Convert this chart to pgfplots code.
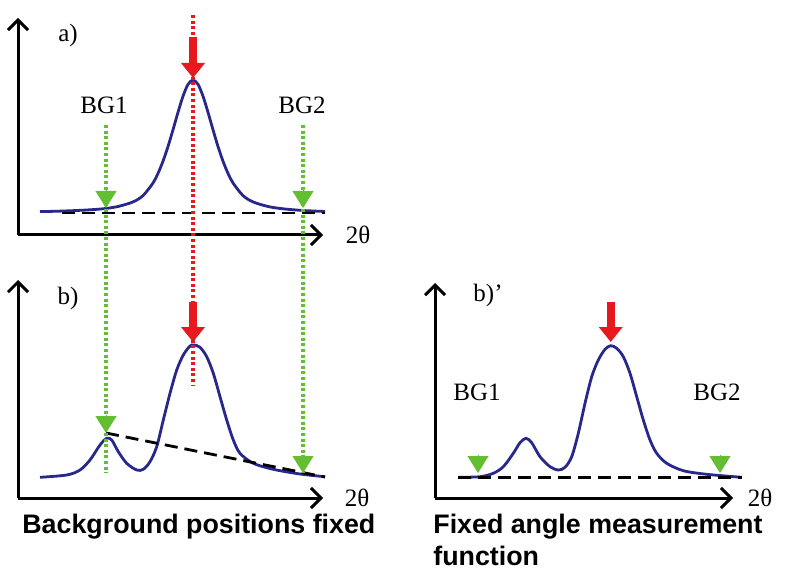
\documentclass[border=0pt]{standalone}
\usepackage{pgfplots}
\pgfplotsset{compat=1.18}
\usepackage{fontspec}
\setmainfont{Liberation Serif}
\newfontfamily\capfont{Liberation Sans}
\usetikzlibrary{arrows.meta}
\definecolor{curve}{RGB}{40,40,140}
\definecolor{bggreen}{RGB}{100,190,50}
\definecolor{pkred}{RGB}{232,25,30}
\tikzset{lab/.style={font=\fontsize{12.5}{14}\selectfont},
  captext/.style={anchor=west, inner sep=0pt, font=\capfont\bfseries\fontsize{13.4}{16}\selectfont}}
\pgfplotsset{
  panel/.style={
    scale only axis, clip=false,
    xmin=0, ymin=0,
    axis lines=left,
    axis line style={line width=1.5pt, -{Straight Barb[length=5pt,width=10pt,line width=1.5pt]}},
    xtick=\empty, ytick=\empty,
  },
  spec/.style={color=curve, line width=1.4pt, smooth, no markers},
  base/.style={black, line width=1.4pt, dash pattern=on 6.5pt off 3.5pt, no markers},
  gdot/.style={bggreen, line width=1.7pt, dash pattern=on 1.5pt off 1.3pt, no markers},
  rdot/.style={pkred, line width=1.7pt, dash pattern=on 1.5pt off 1.3pt, no markers},
  ghead/.style={bggreen, line width=0.4pt, -{Triangle[length=8.5pt,width=10.5pt]}, no markers},
  rarrow/.style={pkred, line width=4pt, -{Triangle[length=7.5pt,width=11.5pt]}, no markers},
}
\begin{document}
\begin{tikzpicture}
\path[use as bounding box] (0pt,0pt) rectangle (395pt,-285.5pt);

% ---------- panel b ----------
\begin{axis}[panel, at={(9pt,-249pt)}, anchor=south west,
  width=152.5pt, height=109pt, xmax=305, ymax=218]
\addplot[spec] coordinates {
(22,20.7)(48.7,23)(62,28)(72,38)(82,53)(88.7,59.7)(93.7,58)(100.3,46.3)
(108.7,34.7)(118.7,28)(125.3,28.7)(132,36.3)(138.7,51.3)(145.3,78)(152,104.7)
(158.7,128)(165.3,143)(172,152)(176,153)(182,150.7)(188.7,141.3)(195.3,124.7)
(202,101.3)(208.7,78)(215.3,58)(222,44.7)(235.3,34.7)(255.3,28.7)(282,24)(307,21.3)};
\addplot[base] coordinates {(88,65)(307,21)};
\addplot[ghead] coordinates {(88,83)(88,65)};
\addplot[ghead] coordinates {(285,43)(285,25)};
\addplot[rarrow] coordinates {(175,196)(175,156)};
\node[lab] at (axis cs:50,200) {b)};
\node[lab] at (axis cs:339,0) {2θ};
\end{axis}

% ---------- panel a ----------
\begin{axis}[panel, at={(9pt,-117.5pt)}, anchor=south west,
  width=152.5pt, height=108.5pt, xmax=305, ymax=217]
\addplot[spec] coordinates {
(22,23.4)(40,23.8)(65,24.8)(85,26.2)(100,28.5)(115,33.1)(125,39.4)(135,52)
(140,61.6)(145,73.8)(150,88.5)(155,105.2)(160,122.7)(165,138.8)(170,150.6)
(175,155)(180,150.6)(185,138.8)(190,122.7)(195,105.2)(200,88.5)(205,73.8)
(210,61.6)(215,52)(225,39.4)(235,33.1)(250,28.5)(265,26.2)(285,24.5)(307,23.5)};
\addplot[base] coordinates {(44,22)(307,22)};
\addplot[gdot] coordinates {(88,110)(88,-238)};
\addplot[gdot] coordinates {(285,110)(285,-238)};
\addplot[rdot] coordinates {(175,220)(175,-150)};
\addplot[ghead] coordinates {(88,45)(88,27)};
\addplot[ghead] coordinates {(285,45)(285,27)};
\addplot[rarrow] coordinates {(175,198)(175,157)};
\node[lab] at (axis cs:50,200) {a)};
\node[lab] at (axis cs:86,130) {BG1};
\node[lab] at (axis cs:284,130) {BG2};
\node[lab] at (axis cs:340,0) {2θ};
\end{axis}

% ---------- panel b' ----------
\begin{axis}[panel, at={(217.5pt,-249pt)}, anchor=south west,
  width=149pt, height=107.5pt, xmax=298, ymax=215]
\addplot[spec] coordinates {
(23.3,20.7)(45,21.3)(58.3,24.7)(68.3,31.3)(78.3,44.7)(85,55.3)(91,59.7)(96.7,55.3)
(105,41.3)(115,31.3)(123.3,28)(130,30.7)(136.7,41.3)(143.3,64.7)(150,94.7)
(156.7,121.3)(163.3,138)(170,148.7)(175.7,152.3)(181.7,149.7)(188.3,141.3)
(195,124.7)(201.7,101.3)(208.3,78)(215,58)(221.7,44.7)(231.7,34.7)(248.3,27.3)
(271.7,23.7)(306.7,20.7)};
\addplot[base] coordinates {(23,20.7)(307,20.7)};
\addplot[ghead] coordinates {(43,43)(43,25)};
\addplot[ghead] coordinates {(285,43)(285,25)};
\addplot[rarrow] coordinates {(175.7,196)(175.7,156)};
\node[lab] at (axis cs:53,203) {b)’};
\node[lab] at (axis cs:42,106) {BG1};
\node[lab] at (axis cs:282,106) {BG2};
\node[lab] at (axis cs:325,0) {2θ};
\end{axis}

% captions
\node[captext] at (11pt,-263.5pt) {Background positions fixed};
\node[captext] at (216.5pt,-263.5pt) {Fixed angle measurement};
\node[captext] at (216.5pt,-278pt) {function};
\end{tikzpicture}
\end{document}
